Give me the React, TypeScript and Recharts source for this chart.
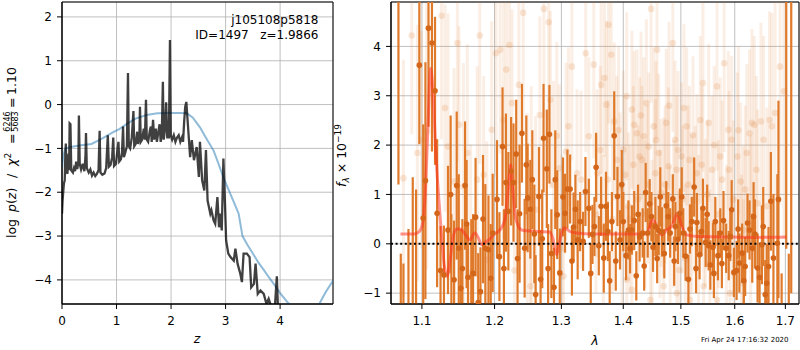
import React from 'react';
import {
  ComposedChart, Line, Scatter, XAxis, YAxis, CartesianGrid, ErrorBar,
  ReferenceLine, ReferenceArea,
} from 'recharts';

// ---------- tick labels ----------
const zTicks = [0, 1, 2, 3, 4];
const logpTicks = [-4, -3, -2, -1, 0, 1, 2];
const lamTicks = [1.1, 1.2, 1.3, 1.4, 1.5, 1.6, 1.7];
const fluxTicks = [-1, 0, 1, 2, 3, 4];

// ---------- left panel: log p(z) ----------
const pzCurve: [number, number][] = [
  [0, -2.49], [0.01, -2.2], [0.02, -2.03], [0.035, -1.8], [0.05, -1.73], [0.06, -1.2], [0.07, -0.89],
  [0.08, -1.5], [0.1, -1.58], [0.11, -1.3], [0.12, -1.12], [0.13, -1.5], [0.14, -0.43], [0.155, -0.45],
  [0.17, -1.5], [0.2, -1.55], [0.22, -1.45], [0.24, -1.52], [0.26, -1.3], [0.28, -1.47], [0.3, -1.3],
  [0.31, -0.25], [0.325, -1.35], [0.35, -1.48], [0.38, -1.35], [0.41, -1.52], [0.43, -1.2], [0.44, -0.65],
  [0.455, -1.45], [0.49, -1.55], [0.52, -1.48], [0.55, -1.62], [0.58, -1.55], [0.61, -1.63], [0.64, -1.58],
  [0.67, -1.5], [0.69, -0.6], [0.705, -1.55], [0.74, -1.6], [0.78, -1.57], [0.81, -1.45], [0.84, -0.7],
  [0.86, -1.42], [0.89, -1.38], [0.92, -1.2], [0.94, -0.75], [0.955, -1.4], [0.99, -1.35], [1.02, -1.0],
  [1.035, -0.85], [1.05, -1.3], [1.08, -1.25], [1.1, -1.1], [1.12, -0.5], [1.135, -1.2], [1.16, -1.1],
  [1.19, -0.95], [1.21, 0.72], [1.225, -0.95], [1.25, -1.0], [1.28, -0.75], [1.31, -0.15], [1.325, -0.95],
  [1.35, -0.9], [1.38, -0.62], [1.395, -0.9], [1.42, -0.7], [1.43, -0.05], [1.445, -0.85], [1.47, -0.8],
  [1.5, -0.55], [1.52, -0.8], [1.54, 0.11], [1.555, -0.8], [1.58, -0.85], [1.61, -0.6], [1.63, -0.5],
  [1.645, -0.85], [1.67, -0.35], [1.69, -0.8], [1.72, -0.55], [1.74, -0.85], [1.77, -0.6], [1.79, -0.45],
  [1.81, -0.85], [1.83, -0.7], [1.85, 0.52], [1.865, -0.8], [1.89, -0.55], [1.91, 0.05], [1.93, -0.75],
  [1.96, -0.75], [1.98, 1.47], [1.995, -0.7], [2.02, -0.8], [2.05, -0.7], [2.08, -0.85], [2.11, -0.75],
  [2.14, -0.7], [2.17, -0.85], [2.2, -0.75], [2.22, -0.85], [2.24, -0.4], [2.26, -0.05], [2.28, 0.06],
  [2.3, -0.3], [2.32, -0.66], [2.35, -1.2], [2.38, -0.81], [2.42, -1.27], [2.47, -0.97], [2.51, -1.65],
  [2.53, -0.85], [2.57, -1.73], [2.61, -1.96], [2.64, -1.04], [2.67, -2.19], [2.72, -2.49], [2.74, -2.41],
  [2.78, -2.64], [2.81, -2.72], [2.85, -2.11], [2.88, -2.8], [2.9, -2.49], [2.93, -2.87], [2.96, -1.23],
  [2.99, -2.3], [3.01, -3.1], [3.05, -3.4], [3.09, -3.48], [3.15, -3.56], [3.18, -3.29], [3.22, -3.63],
  [3.27, -3.86], [3.3, -4.05], [3.33, -3.4], [3.39, -3.4], [3.44, -3.48], [3.47, -4.17], [3.52, -4.09],
  [3.55, -3.63], [3.59, -4.32], [3.64, -4.24], [3.7, -4.32], [3.75, -4.55], [3.79, -4.43], [3.83, -4.58],
  [3.9, -4.7], [3.94, -3.92], [3.96, -4.62], [4.0, -4.9], [4.2, -5.2],
];

const pzPrior: [number, number][] = [
  [0, -1.45], [0.02, -1.2], [0.06, -1.0], [0.18, -0.96], [0.35, -0.93], [0.54, -0.9], [0.7, -0.8],
  [0.94, -0.63], [1.05, -0.56], [1.19, -0.44], [1.35, -0.32], [1.55, -0.24], [1.75, -0.2], [1.98, -0.19],
  [2.15, -0.19], [2.29, -0.2], [2.4, -0.3], [2.53, -0.52], [2.65, -0.78], [2.78, -1.05], [2.87, -1.35],
  [2.96, -1.66], [3.05, -1.93], [3.14, -2.19], [3.24, -2.49], [3.31, -3.0], [3.4, -3.2], [3.5, -3.4],
  [3.6, -3.6], [3.7, -3.77], [3.8, -3.95], [3.9, -4.12], [4.0, -4.3], [4.13, -4.5], [4.3, -4.75],
  [4.5, -4.9], [4.65, -4.75], [4.74, -4.5], [4.85, -4.25], [4.97, -4.02],
];

// ---------- right panel: spectrum (lambda, flux, error) ----------
const specMain: [number, number, number][] = [
  [1.0695, 5.3, 4.1], [1.0725, -1.5, 1.3], [1.0759, -1.6, 1.2], [1.0824, -1.5, 1.8], [1.088, -1.4, 2.75],
  [1.0923, -1.5, 2.6], [1.0966, 3.62, 1.6], [1.1017, 0.52, 1.9], [1.1046, 1.28, 2.4], [1.1087, 4.37, 2.0],
  [1.1133, 4.07, 2.2], [1.1174, 3.1, 1.5], [1.1202, 0.62, 1.5], [1.1248, -0.54, 0.9], [1.1294, -0.63, 1.0],
  [1.1349, 0.28, 1.3], [1.1385, 1.0, 1.6], [1.1395, -1.4, 2.0], [1.1432, -0.73, 1.2], [1.1468, 1.18, 1.5],
  [1.1496, -0.09, 1.5], [1.1525, -0.9, 1.2], [1.1546, -0.5, 1.0], [1.1583, 1.18, 1.3], [1.1605, 0.4, 1.3],
  [1.1624, -0.68, 1.1], [1.167, -1.5, 2.0], [1.1695, -0.6, 1.2], [1.173, 0.54, 1.2], [1.1767, -1.19, 1.0],
  [1.1799, -0.97, 0.9], [1.1835, 0.5, 1.3], [1.1868, -0.09, 1.3], [1.1913, -0.12, 1.1], [1.1945, -0.7, 1.1],
  [1.1973, 0.22, 1.2], [1.2035, 0.9, 1.2], [1.207, -0.26, 0.9], [1.2115, 1.97, 1.2], [1.2135, -0.5, 1.2],
  [1.2165, 1.24, 1.4], [1.22, 0.66, 1.2], [1.224, 1.47, 1.1], [1.2275, 1.24, 1.2], [1.2315, 1.82, 1.1],
  [1.2335, -0.3, 1.0], [1.2365, 0.61, 1.4], [1.24, 2.24, 1.0], [1.244, -0.09, 1.0], [1.2465, 1.6, 1.0],
  [1.2485, 0.93, 1.1], [1.2525, 0.7, 1.0], [1.2555, 1.3, 1.0], [1.2585, 0.2, 1.0], [1.2605, -1.03, 0.8],
  [1.2655, 0.96, 1.0], [1.268, -0.72, 1.0], [1.2705, 0.1, 1.0], [1.2725, 2.14, 1.1], [1.2775, 1.52, 1.2],
  [1.2795, -0.5, 0.9], [1.2815, 2.22, 1.0], [1.2845, -0.2, 0.9], [1.2885, -0.88, 0.8], [1.2905, 1.3, 1.0],
  [1.2935, 0.59, 0.9], [1.2975, -0.59, 0.9], [1.3025, 0.95, 0.8], [1.3057, 0.62, 0.8], [1.3094, 1.11, 0.8],
  [1.3137, 1.11, 0.7], [1.3165, -0.35, 0.7], [1.3191, 0.34, 0.7], [1.322, 0.7, 0.7], [1.3256, 0.08, 0.8],
  [1.3295, 0.45, 0.6], [1.3342, 0.05, 0.6], [1.338, 1.06, 0.7], [1.3434, 0.72, 0.6], [1.3465, -0.6, 0.6],
  [1.3493, 0.19, 0.6], [1.3525, 0.35, 0.6], [1.3552, 1.55, 0.7], [1.3596, -0.04, 0.6], [1.3633, 0.76, 0.6],
  [1.3677, -0.29, 0.7], [1.3714, 0.76, 0.7], [1.3745, 0.25, 0.6], [1.3774, -0.75, 0.6], [1.3811, 0.45, 0.6],
  [1.3849, 2.19, 0.9], [1.3875, -0.35, 0.6], [1.3903, 0.96, 0.6], [1.3946, 0.08, 0.6], [1.3975, 1.2, 0.7],
  [1.4, 0.45, 0.6], [1.4046, -0.24, 0.5], [1.4087, 0.28, 0.6], [1.4115, -0.1, 0.5], [1.4145, 0.28, 0.5],
  [1.4185, 0.47, 0.6], [1.422, -0.65, 0.5], [1.425, 0.6, 0.6], [1.4277, 0.14, 0.5], [1.4329, 0.22, 0.5],
  [1.4355, -0.45, 0.5], [1.4381, 1.04, 0.6], [1.4416, 0.22, 0.5], [1.445, 0.81, 0.5], [1.448, 0.55, 0.5],
  [1.4508, -0.07, 0.5], [1.4549, 0.35, 0.6], [1.458, -0.3, 0.5], [1.4607, 0.27, 0.5], [1.4635, 0.95, 0.6],
  [1.4665, 0.24, 0.5], [1.4705, -0.2, 0.5], [1.474, 0.77, 0.5], [1.4775, 0.55, 0.5], [1.4809, 0.22, 0.5],
  [1.4856, 0.91, 0.5], [1.488, -0.35, 0.5], [1.4902, 0.35, 0.5], [1.4948, 0.09, 0.5], [1.4983, 0.62, 0.5],
  [1.5015, 0.95, 0.6], [1.5043, 0.22, 0.5], [1.5085, -0.25, 0.5], [1.5136, -0.72, 0.5], [1.5165, 0.3, 0.5],
  [1.5198, 0.45, 0.5], [1.5241, 1.15, 0.6], [1.5275, -0.5, 0.5], [1.5291, 0.43, 0.6], [1.534, -0.22, 0.5],
  [1.5375, 0.25, 0.5], [1.5402, 0.72, 0.6], [1.5452, 0.03, 0.5], [1.548, 0.6, 0.6], [1.5508, -0.04, 0.5],
  [1.5539, -0.43, 0.5], [1.5588, -0.07, 0.5], [1.5605, -0.6, 0.5], [1.5632, 0.45, 0.5], [1.5681, -0.24, 0.5],
  [1.5725, 0.22, 0.5], [1.5755, -0.4, 0.5], [1.5786, 0.47, 0.6], [1.5836, -0.09, 0.5], [1.5885, -0.24, 0.5],
  [1.5915, 0.15, 0.5], [1.5941, 0.69, 0.6], [1.5984, -0.58, 0.5], [1.6036, -0.54, 0.6], [1.6065, 0.3, 0.6],
  [1.6089, -0.39, 0.6], [1.6142, -0.19, 0.6], [1.6175, -0.75, 0.6], [1.6201, -0.46, 0.6], [1.6247, 0.42, 0.6],
  [1.6286, 0.28, 0.6], [1.6339, -0.09, 0.7], [1.6365, 0.55, 0.7], [1.6391, 0.2, 0.7], [1.6444, -0.49, 0.7],
  [1.6483, -0.68, 0.7], [1.6529, -0.02, 0.8], [1.6555, 0.35, 0.8], [1.6595, -1.03, 0.7], [1.6625, -0.8, 0.8],
  [1.6661, -0.46, 0.8], [1.6707, 0.86, 1.0], [1.6759, -0.29, 1.3], [1.6838, 0.01, 1.4], [1.686, 0.9, 2.0],
  [1.6924, -1.6, 1.0], [1.7018, 5.2, 5.3], [1.707, -1.5, 1.3], [1.712, 5.0, 6.0],
];

const specFaint: [number, number, number][] = [
  [1.0759, 1.33, 2.4], [1.0867, 4.22, 2.0], [1.094, 1.84, 2.6], [1.0996, 2.11, 2.2], [1.1064, 2.28, 2.8],
  [1.1262, 4.62, 2.5], [1.1308, 2.75, 2.1], [1.1349, 1.97, 2.7], [1.1431, 1.26, 2.3], [1.1477, 4.07, 2.4],
  [1.15, 2.41, 2.0], [1.156, 1.16, 2.5], [1.1615, 1.84, 2.2], [1.1661, -0.59, 2.6], [1.1753, 1.3, 2.3],
  [1.1789, 4.22, 2.6], [1.1845, 1.4, 2.0], [1.189, -0.32, 2.4], [1.1959, 2.31, 2.2], [1.202, 3.86, 2.5],
  [1.208, 3.93, 2.1], [1.213, 2.51, 2.4], [1.217, 3.53, 2.0], [1.2215, 4.03, 2.3], [1.2254, 2.85, 1.9],
  [1.2289, -0.54, 2.2], [1.2354, 3.22, 2.0], [1.2419, 4.68, 2.4], [1.2479, 0.55, 2.1], [1.2529, -0.86, 1.9],
  [1.2539, 0.89, 2.3], [1.2604, 0.69, 1.9], [1.2669, 2.61, 2.0], [1.2729, 4.76, 2.2], [1.2804, 4.49, 2.0],
  [1.2829, 2.92, 1.8], [1.2879, 1.2, 2.1], [1.2929, 2.19, 1.9], [1.2968, 1.53, 1.7], [1.3008, -0.09, 1.9],
  [1.3033, -0.66, 1.8], [1.3073, 1.87, 1.8], [1.311, 2.38, 1.6], [1.3164, 3.59, 1.9], [1.3245, 1.43, 1.7],
  [1.331, 1.3, 1.8], [1.3385, 3.86, 2.0], [1.3434, 2.18, 1.6], [1.3515, 3.63, 1.9], [1.355, 0.6, 1.6],
  [1.3569, 1.43, 1.7], [1.362, 1.9, 1.7], [1.3633, 3.22, 1.8], [1.367, 0.3, 1.5], [1.3687, 3.36, 1.6],
  [1.3719, 2.82, 1.7], [1.374, 1.3, 1.6], [1.3757, 4.44, 2.0], [1.38, 3.83, 1.8], [1.382, 0.5, 1.5],
  [1.3849, 2.48, 1.6], [1.3892, 1.7, 1.7], [1.392, 2.3, 1.7], [1.3946, 1.16, 1.5], [1.398, 0.2, 1.5],
  [1.4, 1.91, 1.6], [1.403, 1.4, 1.6], [1.4058, 2.99, 1.7], [1.4058, -0.73, 1.5], [1.4087, 0.76, 1.5],
  [1.411, 0.5, 1.5], [1.4145, 2.72, 1.6], [1.4145, -0.93, 1.6], [1.417, 1.6, 1.6], [1.4185, 2.41, 1.5],
  [1.4231, 2.24, 1.7], [1.425, 0.9, 1.5], [1.4277, 1.77, 1.6], [1.43, 2.6, 1.7], [1.4318, 1.7, 1.5],
  [1.4347, 2.18, 1.6], [1.437, 0.6, 1.5], [1.4393, 2.85, 1.7], [1.442, 1.2, 1.6], [1.4434, 1.97, 1.5],
  [1.4463, -1.14, 1.5], [1.4474, 4.76, 1.9], [1.449, 0.2, 1.5], [1.452, 2.38, 1.6], [1.4549, 1.43, 1.5],
  [1.456, 2.1, 1.6], [1.4578, 3.93, 1.8], [1.4607, 1.84, 1.6], [1.463, 0.4, 1.5], [1.4647, 1.03, 1.5],
  [1.4694, 0.96, 1.6], [1.4694, -0.86, 1.6], [1.472, 1.2, 1.6], [1.474, 2.45, 1.5], [1.478, 1.57, 1.6],
  [1.479, 2.8, 1.7], [1.4809, 0.08, 1.5], [1.4856, 4.07, 1.8], [1.487, 0.6, 1.5], [1.4896, 2.11, 1.6],
  [1.4925, 1.5, 1.5], [1.4925, -1.0, 1.5], [1.495, 1.9, 1.6], [1.4971, -0.53, 1.6], [1.5012, 1.77, 1.5],
  [1.503, 0.9, 1.5], [1.5056, 2.75, 1.7], [1.508, -0.3, 1.5], [1.5105, 2.38, 1.6], [1.513, 1.2, 1.6],
  [1.5155, 1.7, 1.5], [1.5167, -1.14, 1.6], [1.5198, 0.62, 1.6], [1.522, 2.2, 1.6], [1.526, 0.89, 1.5],
  [1.5291, 1.43, 1.6], [1.532, 0.3, 1.5], [1.5353, 2.51, 1.7], [1.538, 1.6, 1.6], [1.5402, 3.26, 1.8],
  [1.5415, -0.86, 1.5], [1.5446, 0.62, 1.5], [1.548, 1.0, 1.5], [1.5508, 2.45, 1.6], [1.553, -0.4, 1.5],
  [1.557, 1.5, 1.5], [1.561, 2.0, 1.6], [1.5663, 3.19, 1.7], [1.5663, -1.14, 1.6], [1.569, 0.6, 1.5],
  [1.5725, 1.77, 1.6], [1.576, 1.3, 1.6], [1.5799, 3.66, 1.8], [1.584, 0.1, 1.5], [1.5879, 2.31, 1.6],
  [1.589, 1.5, 1.6], [1.591, -1.0, 1.5], [1.5941, 2.11, 1.7], [1.597, 0.9, 1.6], [1.5984, -0.59, 1.6],
  [1.6049, 1.77, 1.7], [1.607, 2.3, 1.7], [1.6115, 1.26, 1.6], [1.613, -0.2, 1.6], [1.6167, 0.28, 1.7],
  [1.6167, -0.8, 1.7], [1.62, 1.1, 1.7], [1.6233, 1.84, 1.8], [1.6286, 2.24, 1.7], [1.631, 0.4, 1.8],
  [1.6332, 2.45, 1.9], [1.6378, 2.41, 1.8], [1.642, 1.5, 1.9], [1.6444, 0.82, 1.9], [1.651, 2.48, 2.0],
  [1.6562, 2.11, 2.1], [1.6628, 0.76, 2.0], [1.6681, 2.51, 2.2], [1.6727, 2.38, 2.3], [1.6793, 2.65, 2.5],
  [1.6891, 3.59, 2.8], [1.697, 3.09, 3.0],
];

const specModel: [number, number][] = [
  [1.072, 0.2], [1.09, 0.2], [1.096, 0.24], [1.1, 0.35], [1.104, 0.9], [1.108, 2.4], [1.1115, 3.55],
  [1.115, 3.0], [1.118, 2.0], [1.122, 1.0], [1.126, 0.2], [1.13, -0.45], [1.1335, -0.66], [1.138, -0.3],
  [1.142, 0.15], [1.1465, 0.3], [1.152, 0.3], [1.158, 0.2], [1.165, 0.08], [1.172, 0.22], [1.177, 0.12],
  [1.1815, -0.02], [1.187, 0.03], [1.1933, 0.1], [1.2, 0.2], [1.2077, 0.28], [1.215, 0.49], [1.219, 1.0],
  [1.2233, 1.6], [1.226, 1.2], [1.2296, 0.62], [1.234, 0.38], [1.2395, 0.28], [1.26, 0.25], [1.2823, 0.24],
  [1.287, 0.1], [1.2925, -0.22], [1.296, -0.05], [1.3003, 0.22], [1.305, 0.32], [1.3081, 0.3], [1.315, 0.24],
  [1.3239, 0.22], [1.35, 0.2], [1.4, 0.2], [1.4397, 0.2], [1.45, 0.49], [1.4657, 0.18], [1.475, 0.28],
  [1.485, 0.38], [1.4935, 0.62], [1.502, 0.35], [1.5103, 0.18], [1.53, 0.15], [1.58, 0.14], [1.64, 0.13],
  [1.702, 0.14],
];

// ---------- styles ----------
const FONT = '"DejaVu Sans", Verdana, sans-serif';
const ORANGE = '#df7a2b';
const ORANGE_DOT = '#d4661a';
const minus = (v: number) => (v < 0 ? '\u2212' + String(Math.abs(v)) : String(v));
const tickStyle = { fill: '#000', fontSize: 12, fontFamily: FONT };

const priorData = pzPrior.map(([z, p]) => ({ z, p }));
const curveData = pzCurve.map(([z, p]) => ({ z, p }));
const mainData = specMain.map(([l, f, e]) => ({ l, f, e }));
const faintData = specFaint.map(([l, f, e]) => ({ l, f, e }));
const modelData = specModel.map(([l, f]) => ({ l, f }));

const Z_DOM: [number, number] = [0, 4.97];
const P_DOM: [number, number] = [-4.55, 2.34];
const L_DOM: [number, number] = [1.06, 1.728];
const F_DOM: [number, number] = [-1.22, 4.9];

// right chart geometry (used for margins and the clip region of the error bars)
const R_W = 470, R_H = 350;
const R_M = { top: 2, right: 1, bottom: 16, left: 21 };
const R_YW = 40, R_XH = 30;

const mainDot = (p: any) => <circle cx={p.cx} cy={p.cy} r={2.8} fill={ORANGE_DOT} />;
const faintDot = (p: any) => <circle cx={p.cx} cy={p.cy} r={3.3} fill={ORANGE} fillOpacity={0.18} />;

export default function App() {
  const clipX = R_M.left + R_YW;
  const clipY = R_M.top;
  const clipW = R_W - R_M.right - clipX;
  const clipH = R_H - R_M.bottom - R_XH - clipY;
  return (
    <div style={{ position: 'absolute', left: 0, top: 0, width: 800, height: 350, background: '#fff', overflow: 'hidden' }}>
      <style>{'.specwrap .recharts-scatter, .specwrap .recharts-errorBars, .specwrap .recharts-errorBar { clip-path: url(#specClip); }'}</style>
      <svg width={0} height={0} style={{ position: 'absolute' }}>
        <defs>
          <clipPath id="specClip" clipPathUnits="userSpaceOnUse">
            <rect x={clipX} y={clipY} width={clipW} height={clipH} />
          </clipPath>
        </defs>
      </svg>

      <div style={{ position: 'absolute', left: 0, top: 0 }}>
        <ComposedChart width={340} height={350} margin={{ top: 2, right: 7, bottom: 16, left: 12 }}>
          <CartesianGrid stroke="#b0b0b0" strokeWidth={0.8} />
          <XAxis type="number" dataKey="z" domain={Z_DOM} ticks={zTicks} allowDataOverflow interval={0}
            height={30} tickSize={5} tickMargin={7.5} stroke="#000" tick={tickStyle} tickFormatter={minus} />
          <YAxis type="number" dataKey="p" domain={P_DOM} ticks={logpTicks} allowDataOverflow interval={0}
            width={50} tickSize={5} tickMargin={5} stroke="#000" tick={tickStyle} tickFormatter={minus} />
          <Line data={priorData} dataKey="p" type="linear" stroke="#1f77b4" strokeOpacity={0.5} strokeWidth={2}
            dot={false} isAnimationActive={false} />
          <Line data={curveData} dataKey="p" type="linear" stroke="#000" strokeOpacity={0.75} strokeWidth={2.3}
            dot={false} isAnimationActive={false} />
          <ReferenceArea x1={Z_DOM[0]} x2={Z_DOM[1]} y1={P_DOM[0]} y2={P_DOM[1]} fill="none" fillOpacity={0}
            stroke="#000" strokeWidth={1} ifOverflow="visible" />
        </ComposedChart>
      </div>

      <div className="specwrap" style={{ position: 'absolute', left: 330, top: 0 }}>
        <ComposedChart width={R_W} height={R_H} margin={R_M}>
          <CartesianGrid stroke="#b0b0b0" strokeWidth={0.8} />
          <XAxis type="number" dataKey="l" scale="log" domain={L_DOM} ticks={lamTicks} allowDataOverflow interval={0}
            height={R_XH} tickSize={5} tickMargin={7.5} stroke="#000" tick={tickStyle}
            tickFormatter={(v: number) => v.toFixed(1)} />
          <YAxis type="number" dataKey="f" domain={F_DOM} ticks={fluxTicks} allowDataOverflow interval={0}
            width={R_YW} tickSize={5} tickMargin={5} stroke="#000" tick={tickStyle} tickFormatter={minus} />
          <Scatter data={faintData} dataKey="f" shape={faintDot} isAnimationActive={false}>
            <ErrorBar dataKey="e" direction="y" width={0} stroke={ORANGE} strokeWidth={3} strokeOpacity={0.13} />
          </Scatter>
          <Scatter data={mainData} dataKey="f" shape={mainDot} isAnimationActive={false}>
            <ErrorBar dataKey="e" direction="y" width={0} stroke={ORANGE} strokeWidth={2.2} />
          </Scatter>
          <Line data={modelData} dataKey="f" type="monotone" stroke="#ff2a1a" strokeOpacity={0.5} strokeWidth={3}
            dot={false} isAnimationActive={false} />
          <ReferenceLine y={0} stroke="#000" strokeWidth={2} strokeDasharray="2 2.6" />
          <ReferenceArea x1={L_DOM[0]} x2={L_DOM[1]} y1={F_DOM[0]} y2={F_DOM[1]} fill="none" fillOpacity={0}
            stroke="#000" strokeWidth={1} ifOverflow="visible" />
        </ComposedChart>
      </div>

      <svg width={800} height={350} style={{ position: 'absolute', left: 0, top: 0, pointerEvents: 'none' }}
        fontFamily={FONT}>
        <text x={318.5} y={23.5} fontSize={12} textAnchor="end" fill="#000">j105108p5818</text>
        <text x={318.5} y={39} fontSize={12} textAnchor="end" fill="#000" style={{ whiteSpace: 'pre' }}>
          {'ID=1497   z=1.9866'}
        </text>
        {/* left y label */}
        <g transform="translate(15.5, 238) rotate(-90)" fill="#000">
          <text x={0} y={0} fontSize={12.5}>log</text>
          <text x={26} y={0} fontSize={12.5}>
            <tspan fontStyle="italic">p</tspan>(<tspan fontStyle="italic">z</tspan>)
          </text>
          <text x={60} y={0} fontSize={12.5}>/</text>
          <text x={72} y={0} fontSize={12.5}>
            <tspan fontStyle="italic">χ</tspan><tspan fontSize={9} dy={-5}>2</tspan>
          </text>
          <text x={94} y={0} fontSize={12.5}>=</text>
          <text x={116.5} y={-5.5} fontSize={8} textAnchor="middle">6246</text>
          <line x1={106.5} x2={126.5} y1={-4.2} y2={-4.2} stroke="#000" strokeWidth={0.7} />
          <text x={116.5} y={2.6} fontSize={8} textAnchor="middle">5683</text>
          <text x={130} y={0} fontSize={12.5}>=</text>
          <text x={143} y={0} fontSize={12.5}>1.10</text>
        </g>
        <text x={197} y={343} fontSize={12.5} fontStyle="italic" textAnchor="middle" fill="#000">z</text>
        {/* right y label */}
        <g transform="translate(346, 187) rotate(-90)" fill="#000">
          <text x={0} y={0} fontSize={12.5}>
            <tspan fontStyle="italic">f</tspan>
            <tspan fontSize={9} dy={3} fontStyle="italic">λ</tspan>
            <tspan dy={-3}>{' \u00d7 10'}</tspan>
            <tspan fontSize={9} dy={-5}>{'\u221219'}</tspan>
          </text>
        </g>
        <text x={595} y={345} fontSize={12.5} fontStyle="italic" textAnchor="middle" fill="#000">λ</text>
        <text x={701} y={342} fontSize={7} fill="#000">Fri Apr 24 17:16:32 2020</text>
      </svg>
    </div>
  );
}
